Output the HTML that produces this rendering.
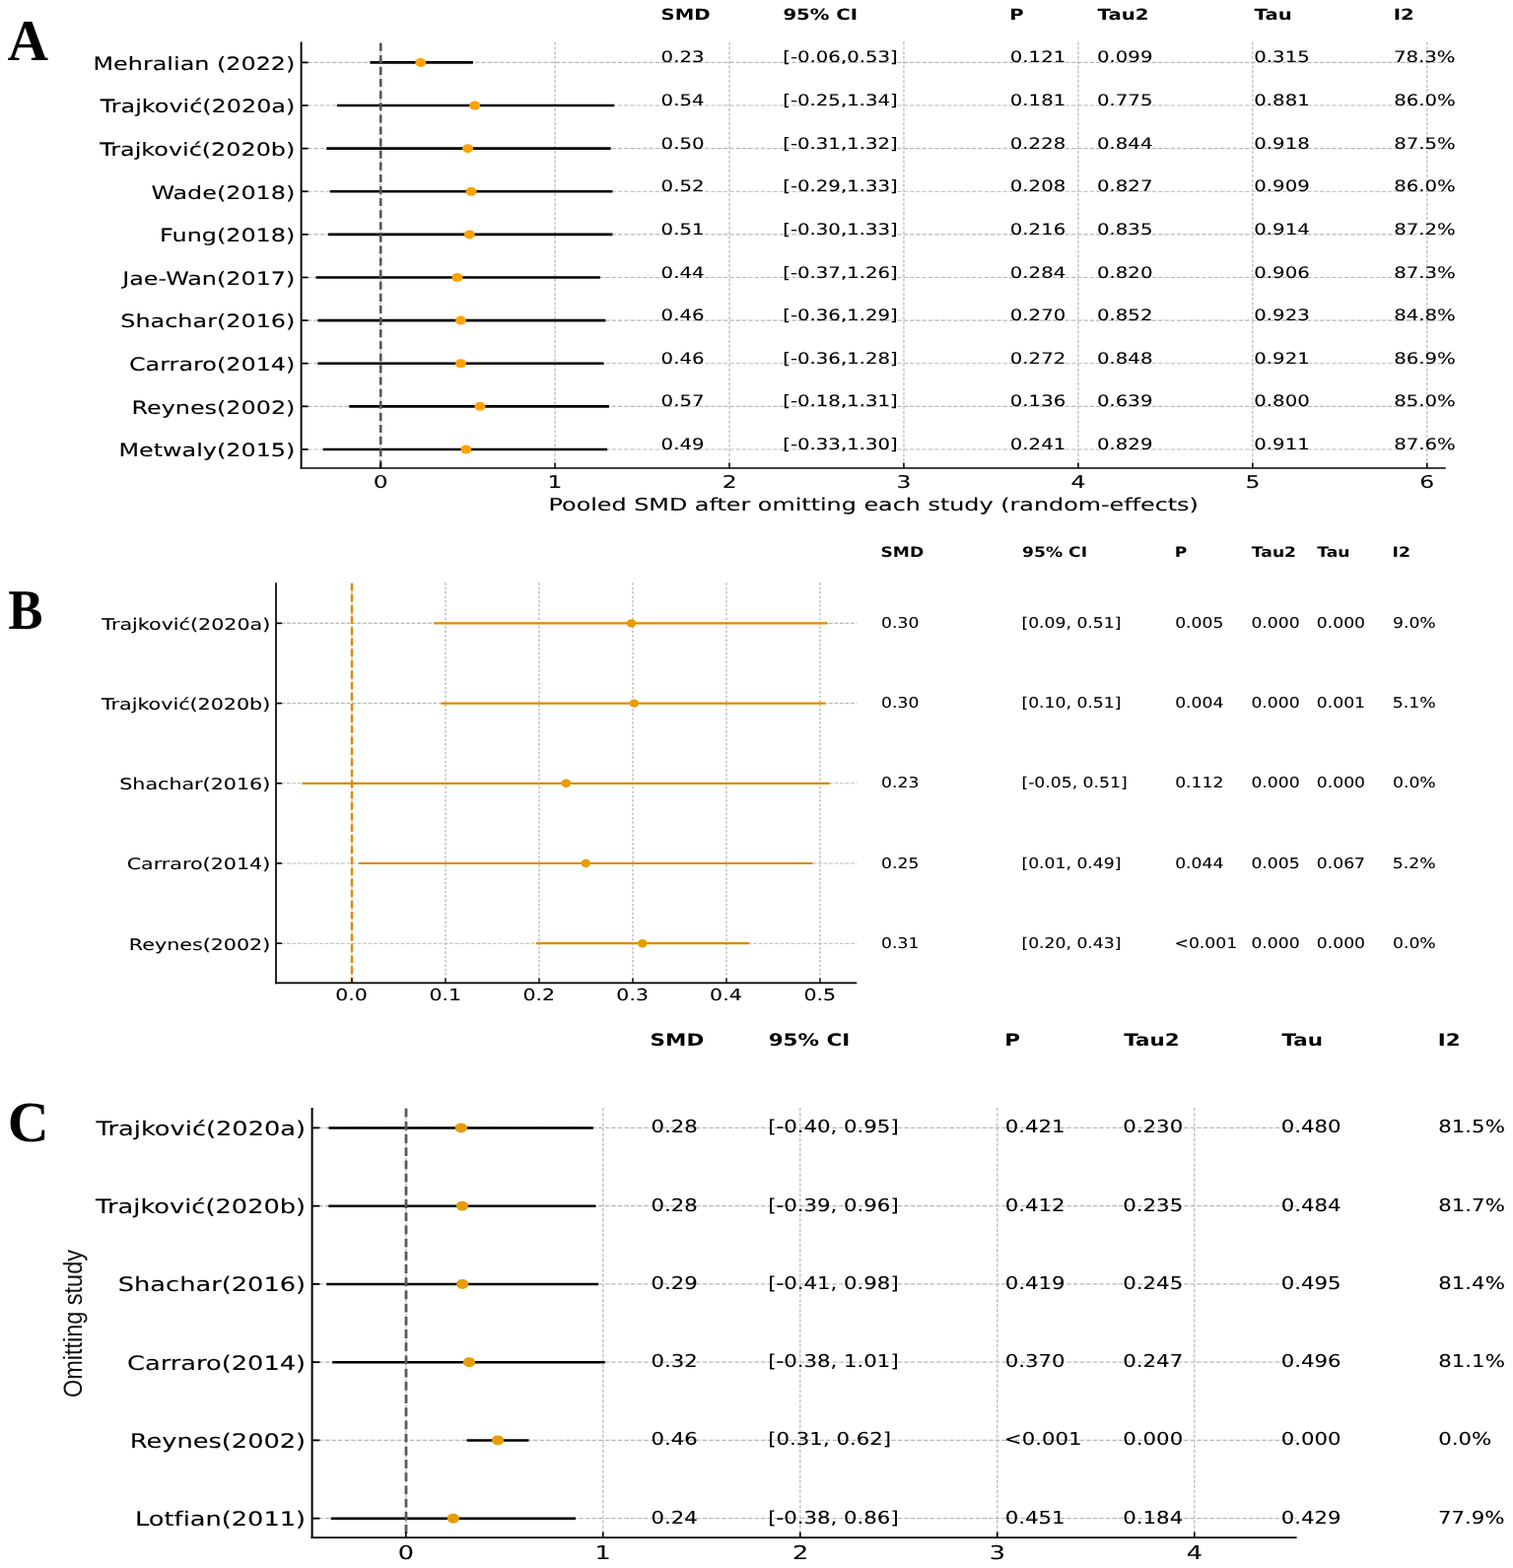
<!DOCTYPE html>
<html><head><meta charset="utf-8"><title>Leave-one-out sensitivity analysis</title>
<style>
html,body{margin:0;padding:0;background:#fff;overflow:hidden;}
svg{display:block;}
text{white-space:pre;text-rendering:geometricPrecision;font-variant-ligatures:none;font-feature-settings:"liga" 0,"clig" 0;}
.r{font-family:"DejaVu Sans","Liberation Sans",sans-serif;font-weight:normal;stroke:#000;stroke-width:0.1px;}
.b{font-family:"DejaVu Sans","Liberation Sans",sans-serif;font-weight:bold;}
.lsb{font-family:"Liberation Serif",serif;font-weight:bold;}
.sb{font-family:"DejaVu Serif","Liberation Serif",serif;font-weight:bold;}
.ls{font-family:"Liberation Sans",sans-serif;}
</style></head>
<body>
<svg width="1535" height="1591" viewBox="0 0 1535 1591">
<rect width="1535" height="1591" fill="#fff"/>
<line x1="305.60" y1="63.40" x2="1466.80" y2="63.40" stroke="#b9b9b9" stroke-width="1.1" stroke-dasharray="4.4,1.9" stroke-linecap="butt"/>
<line x1="305.60" y1="107.02" x2="1466.80" y2="107.02" stroke="#b9b9b9" stroke-width="1.1" stroke-dasharray="4.4,1.9" stroke-linecap="butt"/>
<line x1="305.60" y1="150.64" x2="1466.80" y2="150.64" stroke="#b9b9b9" stroke-width="1.1" stroke-dasharray="4.4,1.9" stroke-linecap="butt"/>
<line x1="305.60" y1="194.26" x2="1466.80" y2="194.26" stroke="#b9b9b9" stroke-width="1.1" stroke-dasharray="4.4,1.9" stroke-linecap="butt"/>
<line x1="305.60" y1="237.88" x2="1466.80" y2="237.88" stroke="#b9b9b9" stroke-width="1.1" stroke-dasharray="4.4,1.9" stroke-linecap="butt"/>
<line x1="305.60" y1="281.50" x2="1466.80" y2="281.50" stroke="#b9b9b9" stroke-width="1.1" stroke-dasharray="4.4,1.9" stroke-linecap="butt"/>
<line x1="305.60" y1="325.12" x2="1466.80" y2="325.12" stroke="#b9b9b9" stroke-width="1.1" stroke-dasharray="4.4,1.9" stroke-linecap="butt"/>
<line x1="305.60" y1="368.74" x2="1466.80" y2="368.74" stroke="#b9b9b9" stroke-width="1.1" stroke-dasharray="4.4,1.9" stroke-linecap="butt"/>
<line x1="305.60" y1="412.36" x2="1466.80" y2="412.36" stroke="#b9b9b9" stroke-width="1.1" stroke-dasharray="4.4,1.9" stroke-linecap="butt"/>
<line x1="305.60" y1="455.98" x2="1466.80" y2="455.98" stroke="#b9b9b9" stroke-width="1.1" stroke-dasharray="4.4,1.9" stroke-linecap="butt"/>
<line x1="386.10" y1="42.50" x2="386.10" y2="475.00" stroke="#b9b9b9" stroke-width="1.2" stroke-dasharray="3.2,1.6" stroke-linecap="butt"/>
<line x1="563.05" y1="42.50" x2="563.05" y2="475.00" stroke="#b9b9b9" stroke-width="1.2" stroke-dasharray="3.2,1.6" stroke-linecap="butt"/>
<line x1="740.00" y1="42.50" x2="740.00" y2="475.00" stroke="#b9b9b9" stroke-width="1.2" stroke-dasharray="3.2,1.6" stroke-linecap="butt"/>
<line x1="916.95" y1="42.50" x2="916.95" y2="475.00" stroke="#b9b9b9" stroke-width="1.2" stroke-dasharray="3.2,1.6" stroke-linecap="butt"/>
<line x1="1093.90" y1="42.50" x2="1093.90" y2="475.00" stroke="#b9b9b9" stroke-width="1.2" stroke-dasharray="3.2,1.6" stroke-linecap="butt"/>
<line x1="1270.85" y1="42.50" x2="1270.85" y2="475.00" stroke="#b9b9b9" stroke-width="1.2" stroke-dasharray="3.2,1.6" stroke-linecap="butt"/>
<line x1="1447.80" y1="42.50" x2="1447.80" y2="475.00" stroke="#b9b9b9" stroke-width="1.2" stroke-dasharray="3.2,1.6" stroke-linecap="butt"/>
<line x1="375.48" y1="63.40" x2="479.88" y2="63.40" stroke="#000" stroke-width="2.6" stroke-linecap="butt"/>
<line x1="341.86" y1="107.02" x2="623.21" y2="107.02" stroke="#000" stroke-width="2.6" stroke-linecap="butt"/>
<line x1="331.25" y1="150.64" x2="619.67" y2="150.64" stroke="#000" stroke-width="2.6" stroke-linecap="butt"/>
<line x1="334.78" y1="194.26" x2="621.44" y2="194.26" stroke="#000" stroke-width="2.6" stroke-linecap="butt"/>
<line x1="333.02" y1="237.88" x2="621.44" y2="237.88" stroke="#000" stroke-width="2.6" stroke-linecap="butt"/>
<line x1="320.63" y1="281.50" x2="609.06" y2="281.50" stroke="#000" stroke-width="2.6" stroke-linecap="butt"/>
<line x1="322.40" y1="325.12" x2="614.37" y2="325.12" stroke="#000" stroke-width="2.6" stroke-linecap="butt"/>
<line x1="322.40" y1="368.74" x2="612.60" y2="368.74" stroke="#000" stroke-width="2.6" stroke-linecap="butt"/>
<line x1="354.25" y1="412.36" x2="617.90" y2="412.36" stroke="#000" stroke-width="2.6" stroke-linecap="butt"/>
<line x1="327.71" y1="455.98" x2="616.13" y2="455.98" stroke="#000" stroke-width="2.6" stroke-linecap="butt"/>
<line x1="386.20" y1="43.80" x2="386.20" y2="475.00" stroke="#585858" stroke-width="2.7" stroke-dasharray="8,4.1" stroke-linecap="butt"/>
<ellipse cx="426.80" cy="63.40" rx="5.5" ry="4.5" fill="#FFA200"/>
<ellipse cx="481.65" cy="107.02" rx="5.5" ry="4.5" fill="#FFA200"/>
<ellipse cx="474.58" cy="150.64" rx="5.5" ry="4.5" fill="#FFA200"/>
<ellipse cx="478.11" cy="194.26" rx="5.5" ry="4.5" fill="#FFA200"/>
<ellipse cx="476.34" cy="237.88" rx="5.5" ry="4.5" fill="#FFA200"/>
<ellipse cx="463.96" cy="281.50" rx="5.5" ry="4.5" fill="#FFA200"/>
<ellipse cx="467.50" cy="325.12" rx="5.5" ry="4.5" fill="#FFA200"/>
<ellipse cx="467.50" cy="368.74" rx="5.5" ry="4.5" fill="#FFA200"/>
<ellipse cx="486.96" cy="412.36" rx="5.5" ry="4.5" fill="#FFA200"/>
<ellipse cx="472.81" cy="455.98" rx="5.5" ry="4.5" fill="#FFA200"/>
<line x1="305.60" y1="42.50" x2="305.60" y2="475.80" stroke="#000" stroke-width="1.9" stroke-linecap="butt"/>
<line x1="304.70" y1="475.00" x2="1466.80" y2="475.00" stroke="#000" stroke-width="1.7" stroke-linecap="butt"/>
<line x1="305.60" y1="63.40" x2="312.60" y2="63.40" stroke="#000" stroke-width="1.7" stroke-linecap="butt"/>
<line x1="305.60" y1="107.02" x2="312.60" y2="107.02" stroke="#000" stroke-width="1.7" stroke-linecap="butt"/>
<line x1="305.60" y1="150.64" x2="312.60" y2="150.64" stroke="#000" stroke-width="1.7" stroke-linecap="butt"/>
<line x1="305.60" y1="194.26" x2="312.60" y2="194.26" stroke="#000" stroke-width="1.7" stroke-linecap="butt"/>
<line x1="305.60" y1="237.88" x2="312.60" y2="237.88" stroke="#000" stroke-width="1.7" stroke-linecap="butt"/>
<line x1="305.60" y1="281.50" x2="312.60" y2="281.50" stroke="#000" stroke-width="1.7" stroke-linecap="butt"/>
<line x1="305.60" y1="325.12" x2="312.60" y2="325.12" stroke="#000" stroke-width="1.7" stroke-linecap="butt"/>
<line x1="305.60" y1="368.74" x2="312.60" y2="368.74" stroke="#000" stroke-width="1.7" stroke-linecap="butt"/>
<line x1="305.60" y1="412.36" x2="312.60" y2="412.36" stroke="#000" stroke-width="1.7" stroke-linecap="butt"/>
<line x1="305.60" y1="455.98" x2="312.60" y2="455.98" stroke="#000" stroke-width="1.7" stroke-linecap="butt"/>
<line x1="386.10" y1="475.00" x2="386.10" y2="469.50" stroke="#000" stroke-width="1.5" stroke-linecap="butt"/>
<line x1="563.05" y1="475.00" x2="563.05" y2="469.50" stroke="#000" stroke-width="1.5" stroke-linecap="butt"/>
<line x1="740.00" y1="475.00" x2="740.00" y2="469.50" stroke="#000" stroke-width="1.5" stroke-linecap="butt"/>
<line x1="916.95" y1="475.00" x2="916.95" y2="469.50" stroke="#000" stroke-width="1.5" stroke-linecap="butt"/>
<line x1="1093.90" y1="475.00" x2="1093.90" y2="469.50" stroke="#000" stroke-width="1.5" stroke-linecap="butt"/>
<line x1="1270.85" y1="475.00" x2="1270.85" y2="469.50" stroke="#000" stroke-width="1.5" stroke-linecap="butt"/>
<line x1="1447.80" y1="475.00" x2="1447.80" y2="469.50" stroke="#000" stroke-width="1.5" stroke-linecap="butt"/>
<text class="r" transform="matrix(1.2980,0,0,1,94.51,70.70)" font-size="18.40" fill="#000">Mehralian (2022)</text>
<text class="r" transform="matrix(1.2980,0,0,1,101.68,114.32)" font-size="18.40" fill="#000">Trajković(2020a)</text>
<text class="r" transform="matrix(1.2980,0,0,1,101.20,157.94)" font-size="18.40" fill="#000">Trajković(2020b)</text>
<text class="r" transform="matrix(1.2980,0,0,1,153.38,201.56)" font-size="18.40" fill="#000">Wade(2018)</text>
<text class="r" transform="matrix(1.2980,0,0,1,162.10,245.18)" font-size="18.40" fill="#000">Fung(2018)</text>
<text class="r" transform="matrix(1.2980,0,0,1,124.13,288.80)" font-size="18.40" fill="#000">Jae-Wan(2017)</text>
<text class="r" transform="matrix(1.2980,0,0,1,122.34,332.42)" font-size="18.40" fill="#000">Shachar(2016)</text>
<text class="r" transform="matrix(1.2980,0,0,1,130.93,376.04)" font-size="18.40" fill="#000">Carraro(2014)</text>
<text class="r" transform="matrix(1.2980,0,0,1,133.44,419.66)" font-size="18.40" fill="#000">Reynes(2002)</text>
<text class="r" transform="matrix(1.2980,0,0,1,120.43,463.28)" font-size="18.40" fill="#000">Metwaly(2015)</text>
<text class="r" transform="matrix(1.3300,0,0,1,378.67,494.70)" font-size="17.60" fill="#000">0</text>
<text class="r" transform="matrix(1.3300,0,0,1,555.38,494.70)" font-size="17.60" fill="#000">1</text>
<text class="r" transform="matrix(1.3300,0,0,1,732.86,494.70)" font-size="17.60" fill="#000">2</text>
<text class="r" transform="matrix(1.3300,0,0,1,909.58,494.70)" font-size="17.60" fill="#000">3</text>
<text class="r" transform="matrix(1.3300,0,0,1,1086.53,494.70)" font-size="17.60" fill="#000">4</text>
<text class="r" transform="matrix(1.3300,0,0,1,1263.53,494.70)" font-size="17.60" fill="#000">5</text>
<text class="r" transform="matrix(1.3300,0,0,1,1440.25,494.70)" font-size="17.60" fill="#000">6</text>
<text class="r" transform="matrix(1.3550,0,0,1,556.54,518.30)" font-size="17.60" fill="#000">Pooled SMD after omitting each study (random-effects)</text>
<text class="b" transform="matrix(1.2690,0,0,1,670.52,19.60)" font-size="15.50" fill="#000">SMD</text>
<text class="b" transform="matrix(1.2690,0,0,1,794.42,19.60)" font-size="15.50" fill="#000">95% CI</text>
<text class="b" transform="matrix(1.2690,0,0,1,1024.33,19.60)" font-size="15.50" fill="#000">P</text>
<text class="b" transform="matrix(1.2690,0,0,1,1113.50,19.60)" font-size="15.50" fill="#000">Tau2</text>
<text class="b" transform="matrix(1.2690,0,0,1,1272.60,19.60)" font-size="15.50" fill="#000">Tau</text>
<text class="b" transform="matrix(1.2690,0,0,1,1413.73,19.60)" font-size="15.50" fill="#000">I2</text>
<text class="r" transform="matrix(1.2470,0,0,1,670.62,63.40)" font-size="15.80" fill="#000">0.23</text>
<text class="r" transform="matrix(1.2470,0,0,1,794.23,63.40)" font-size="15.80" fill="#000">[-0.06,0.53]</text>
<text class="r" transform="matrix(1.2470,0,0,1,1024.82,63.40)" font-size="15.80" fill="#000">0.121</text>
<text class="r" transform="matrix(1.2470,0,0,1,1113.02,63.40)" font-size="15.80" fill="#000">0.099</text>
<text class="r" transform="matrix(1.2470,0,0,1,1272.32,63.40)" font-size="15.80" fill="#000">0.315</text>
<text class="r" transform="matrix(1.2470,0,0,1,1413.92,63.40)" font-size="15.80" fill="#000">78.3%</text>
<text class="r" transform="matrix(1.2470,0,0,1,670.62,107.02)" font-size="15.80" fill="#000">0.54</text>
<text class="r" transform="matrix(1.2470,0,0,1,794.23,107.02)" font-size="15.80" fill="#000">[-0.25,1.34]</text>
<text class="r" transform="matrix(1.2470,0,0,1,1024.82,107.02)" font-size="15.80" fill="#000">0.181</text>
<text class="r" transform="matrix(1.2470,0,0,1,1113.02,107.02)" font-size="15.80" fill="#000">0.775</text>
<text class="r" transform="matrix(1.2470,0,0,1,1272.32,107.02)" font-size="15.80" fill="#000">0.881</text>
<text class="r" transform="matrix(1.2470,0,0,1,1414.22,107.02)" font-size="15.80" fill="#000">86.0%</text>
<text class="r" transform="matrix(1.2470,0,0,1,670.62,150.64)" font-size="15.80" fill="#000">0.50</text>
<text class="r" transform="matrix(1.2470,0,0,1,794.23,150.64)" font-size="15.80" fill="#000">[-0.31,1.32]</text>
<text class="r" transform="matrix(1.2470,0,0,1,1024.82,150.64)" font-size="15.80" fill="#000">0.228</text>
<text class="r" transform="matrix(1.2470,0,0,1,1113.02,150.64)" font-size="15.80" fill="#000">0.844</text>
<text class="r" transform="matrix(1.2470,0,0,1,1272.32,150.64)" font-size="15.80" fill="#000">0.918</text>
<text class="r" transform="matrix(1.2470,0,0,1,1414.22,150.64)" font-size="15.80" fill="#000">87.5%</text>
<text class="r" transform="matrix(1.2470,0,0,1,670.62,194.26)" font-size="15.80" fill="#000">0.52</text>
<text class="r" transform="matrix(1.2470,0,0,1,794.23,194.26)" font-size="15.80" fill="#000">[-0.29,1.33]</text>
<text class="r" transform="matrix(1.2470,0,0,1,1024.82,194.26)" font-size="15.80" fill="#000">0.208</text>
<text class="r" transform="matrix(1.2470,0,0,1,1113.02,194.26)" font-size="15.80" fill="#000">0.827</text>
<text class="r" transform="matrix(1.2470,0,0,1,1272.32,194.26)" font-size="15.80" fill="#000">0.909</text>
<text class="r" transform="matrix(1.2470,0,0,1,1414.22,194.26)" font-size="15.80" fill="#000">86.0%</text>
<text class="r" transform="matrix(1.2470,0,0,1,670.62,237.88)" font-size="15.80" fill="#000">0.51</text>
<text class="r" transform="matrix(1.2470,0,0,1,794.23,237.88)" font-size="15.80" fill="#000">[-0.30,1.33]</text>
<text class="r" transform="matrix(1.2470,0,0,1,1024.82,237.88)" font-size="15.80" fill="#000">0.216</text>
<text class="r" transform="matrix(1.2470,0,0,1,1113.02,237.88)" font-size="15.80" fill="#000">0.835</text>
<text class="r" transform="matrix(1.2470,0,0,1,1272.32,237.88)" font-size="15.80" fill="#000">0.914</text>
<text class="r" transform="matrix(1.2470,0,0,1,1414.22,237.88)" font-size="15.80" fill="#000">87.2%</text>
<text class="r" transform="matrix(1.2470,0,0,1,670.62,281.50)" font-size="15.80" fill="#000">0.44</text>
<text class="r" transform="matrix(1.2470,0,0,1,794.23,281.50)" font-size="15.80" fill="#000">[-0.37,1.26]</text>
<text class="r" transform="matrix(1.2470,0,0,1,1024.82,281.50)" font-size="15.80" fill="#000">0.284</text>
<text class="r" transform="matrix(1.2470,0,0,1,1113.02,281.50)" font-size="15.80" fill="#000">0.820</text>
<text class="r" transform="matrix(1.2470,0,0,1,1272.32,281.50)" font-size="15.80" fill="#000">0.906</text>
<text class="r" transform="matrix(1.2470,0,0,1,1414.22,281.50)" font-size="15.80" fill="#000">87.3%</text>
<text class="r" transform="matrix(1.2470,0,0,1,670.62,325.12)" font-size="15.80" fill="#000">0.46</text>
<text class="r" transform="matrix(1.2470,0,0,1,794.23,325.12)" font-size="15.80" fill="#000">[-0.36,1.29]</text>
<text class="r" transform="matrix(1.2470,0,0,1,1024.82,325.12)" font-size="15.80" fill="#000">0.270</text>
<text class="r" transform="matrix(1.2470,0,0,1,1113.02,325.12)" font-size="15.80" fill="#000">0.852</text>
<text class="r" transform="matrix(1.2470,0,0,1,1272.32,325.12)" font-size="15.80" fill="#000">0.923</text>
<text class="r" transform="matrix(1.2470,0,0,1,1414.22,325.12)" font-size="15.80" fill="#000">84.8%</text>
<text class="r" transform="matrix(1.2470,0,0,1,670.62,368.74)" font-size="15.80" fill="#000">0.46</text>
<text class="r" transform="matrix(1.2470,0,0,1,794.23,368.74)" font-size="15.80" fill="#000">[-0.36,1.28]</text>
<text class="r" transform="matrix(1.2470,0,0,1,1024.82,368.74)" font-size="15.80" fill="#000">0.272</text>
<text class="r" transform="matrix(1.2470,0,0,1,1113.02,368.74)" font-size="15.80" fill="#000">0.848</text>
<text class="r" transform="matrix(1.2470,0,0,1,1272.32,368.74)" font-size="15.80" fill="#000">0.921</text>
<text class="r" transform="matrix(1.2470,0,0,1,1414.22,368.74)" font-size="15.80" fill="#000">86.9%</text>
<text class="r" transform="matrix(1.2470,0,0,1,670.62,412.36)" font-size="15.80" fill="#000">0.57</text>
<text class="r" transform="matrix(1.2470,0,0,1,794.23,412.36)" font-size="15.80" fill="#000">[-0.18,1.31]</text>
<text class="r" transform="matrix(1.2470,0,0,1,1024.82,412.36)" font-size="15.80" fill="#000">0.136</text>
<text class="r" transform="matrix(1.2470,0,0,1,1113.02,412.36)" font-size="15.80" fill="#000">0.639</text>
<text class="r" transform="matrix(1.2470,0,0,1,1272.32,412.36)" font-size="15.80" fill="#000">0.800</text>
<text class="r" transform="matrix(1.2470,0,0,1,1414.22,412.36)" font-size="15.80" fill="#000">85.0%</text>
<text class="r" transform="matrix(1.2470,0,0,1,670.62,455.98)" font-size="15.80" fill="#000">0.49</text>
<text class="r" transform="matrix(1.2470,0,0,1,794.23,455.98)" font-size="15.80" fill="#000">[-0.33,1.30]</text>
<text class="r" transform="matrix(1.2470,0,0,1,1024.82,455.98)" font-size="15.80" fill="#000">0.241</text>
<text class="r" transform="matrix(1.2470,0,0,1,1113.02,455.98)" font-size="15.80" fill="#000">0.829</text>
<text class="r" transform="matrix(1.2470,0,0,1,1272.32,455.98)" font-size="15.80" fill="#000">0.911</text>
<text class="r" transform="matrix(1.2470,0,0,1,1414.22,455.98)" font-size="15.80" fill="#000">87.6%</text>
<text class="lsb" transform="matrix(0.9750,0,0,1,7.42,61.00)" font-size="59.00" fill="#000">A</text>
<line x1="280.00" y1="632.40" x2="869.30" y2="632.40" stroke="#b9b9b9" stroke-width="1.1" stroke-dasharray="3.9,1.6" stroke-linecap="butt"/>
<line x1="280.00" y1="713.60" x2="869.30" y2="713.60" stroke="#b9b9b9" stroke-width="1.1" stroke-dasharray="3.9,1.6" stroke-linecap="butt"/>
<line x1="280.00" y1="794.80" x2="869.30" y2="794.80" stroke="#b9b9b9" stroke-width="1.1" stroke-dasharray="3.9,1.6" stroke-linecap="butt"/>
<line x1="280.00" y1="876.00" x2="869.30" y2="876.00" stroke="#b9b9b9" stroke-width="1.1" stroke-dasharray="3.9,1.6" stroke-linecap="butt"/>
<line x1="280.00" y1="957.20" x2="869.30" y2="957.20" stroke="#b9b9b9" stroke-width="1.1" stroke-dasharray="3.9,1.6" stroke-linecap="butt"/>
<line x1="357.00" y1="591.30" x2="357.00" y2="997.40" stroke="#b0b0b0" stroke-width="1.2" stroke-dasharray="2.5,1.9" stroke-linecap="butt"/>
<line x1="452.00" y1="591.30" x2="452.00" y2="997.40" stroke="#b0b0b0" stroke-width="1.2" stroke-dasharray="2.5,1.9" stroke-linecap="butt"/>
<line x1="547.00" y1="591.30" x2="547.00" y2="997.40" stroke="#b0b0b0" stroke-width="1.2" stroke-dasharray="2.5,1.9" stroke-linecap="butt"/>
<line x1="642.00" y1="591.30" x2="642.00" y2="997.40" stroke="#b0b0b0" stroke-width="1.2" stroke-dasharray="2.5,1.9" stroke-linecap="butt"/>
<line x1="737.00" y1="591.30" x2="737.00" y2="997.40" stroke="#b0b0b0" stroke-width="1.2" stroke-dasharray="2.5,1.9" stroke-linecap="butt"/>
<line x1="832.00" y1="591.30" x2="832.00" y2="997.40" stroke="#b0b0b0" stroke-width="1.2" stroke-dasharray="2.5,1.9" stroke-linecap="butt"/>
<line x1="440.31" y1="632.40" x2="839.79" y2="632.40" stroke="#D88C0E" stroke-width="2.2" stroke-linecap="butt"/>
<line x1="447.44" y1="713.60" x2="837.51" y2="713.60" stroke="#D88C0E" stroke-width="2.2" stroke-linecap="butt"/>
<line x1="306.65" y1="794.80" x2="841.78" y2="794.80" stroke="#D88C0E" stroke-width="2.2" stroke-linecap="butt"/>
<line x1="364.03" y1="876.00" x2="824.59" y2="876.00" stroke="#D88C0E" stroke-width="2.2" stroke-linecap="butt"/>
<line x1="543.77" y1="957.20" x2="760.18" y2="957.20" stroke="#D88C0E" stroke-width="2.2" stroke-linecap="butt"/>
<line x1="357.00" y1="592.00" x2="357.00" y2="997.40" stroke="#E08A00" stroke-width="2.5" stroke-dasharray="7.5,3.6" stroke-linecap="butt"/>
<ellipse cx="640.58" cy="632.40" rx="4.8" ry="4.2" fill="#E69D00"/>
<ellipse cx="643.33" cy="713.60" rx="4.8" ry="4.2" fill="#E69D00"/>
<ellipse cx="574.36" cy="794.80" rx="4.8" ry="4.2" fill="#E69D00"/>
<ellipse cx="594.31" cy="876.00" rx="4.8" ry="4.2" fill="#E69D00"/>
<ellipse cx="651.79" cy="957.20" rx="4.8" ry="4.2" fill="#E69D00"/>
<line x1="280.00" y1="591.30" x2="280.00" y2="998.20" stroke="#000" stroke-width="1.7" stroke-linecap="butt"/>
<line x1="279.20" y1="997.40" x2="869.30" y2="997.40" stroke="#000" stroke-width="1.6" stroke-linecap="butt"/>
<line x1="280.00" y1="632.40" x2="286.00" y2="632.40" stroke="#000" stroke-width="1.6" stroke-linecap="butt"/>
<line x1="280.00" y1="713.60" x2="286.00" y2="713.60" stroke="#000" stroke-width="1.6" stroke-linecap="butt"/>
<line x1="280.00" y1="794.80" x2="286.00" y2="794.80" stroke="#000" stroke-width="1.6" stroke-linecap="butt"/>
<line x1="280.00" y1="876.00" x2="286.00" y2="876.00" stroke="#000" stroke-width="1.6" stroke-linecap="butt"/>
<line x1="280.00" y1="957.20" x2="286.00" y2="957.20" stroke="#000" stroke-width="1.6" stroke-linecap="butt"/>
<line x1="357.00" y1="997.40" x2="357.00" y2="992.40" stroke="#000" stroke-width="1.4" stroke-linecap="butt"/>
<line x1="452.00" y1="997.40" x2="452.00" y2="992.40" stroke="#000" stroke-width="1.4" stroke-linecap="butt"/>
<line x1="547.00" y1="997.40" x2="547.00" y2="992.40" stroke="#000" stroke-width="1.4" stroke-linecap="butt"/>
<line x1="642.00" y1="997.40" x2="642.00" y2="992.40" stroke="#000" stroke-width="1.4" stroke-linecap="butt"/>
<line x1="737.00" y1="997.40" x2="737.00" y2="992.40" stroke="#000" stroke-width="1.4" stroke-linecap="butt"/>
<line x1="832.00" y1="997.40" x2="832.00" y2="992.40" stroke="#000" stroke-width="1.4" stroke-linecap="butt"/>
<text class="r" transform="matrix(1.2900,0,0,1,103.36,638.70)" font-size="16.00" fill="#000">Trajković(2020a)</text>
<text class="r" transform="matrix(1.2900,0,0,1,102.94,719.90)" font-size="16.00" fill="#000">Trajković(2020b)</text>
<text class="r" transform="matrix(1.2900,0,0,1,121.21,801.10)" font-size="16.00" fill="#000">Shachar(2016)</text>
<text class="r" transform="matrix(1.2900,0,0,1,128.64,882.30)" font-size="16.00" fill="#000">Carraro(2014)</text>
<text class="r" transform="matrix(1.2900,0,0,1,130.81,963.50)" font-size="16.00" fill="#000">Reynes(2002)</text>
<text class="r" transform="matrix(1.2500,0,0,1,340.20,1015.00)" font-size="16.40" fill="#000">0.0</text>
<text class="r" transform="matrix(1.2500,0,0,1,435.46,1015.00)" font-size="16.40" fill="#000">0.1</text>
<text class="r" transform="matrix(1.2500,0,0,1,530.56,1015.00)" font-size="16.40" fill="#000">0.2</text>
<text class="r" transform="matrix(1.2500,0,0,1,625.36,1015.00)" font-size="16.40" fill="#000">0.3</text>
<text class="r" transform="matrix(1.2500,0,0,1,720.10,1015.00)" font-size="16.40" fill="#000">0.4</text>
<text class="r" transform="matrix(1.2500,0,0,1,815.41,1015.00)" font-size="16.40" fill="#000">0.5</text>
<text class="b" transform="matrix(1.2000,0,0,1,893.50,565.00)" font-size="14.30" fill="#000">SMD</text>
<text class="b" transform="matrix(1.2000,0,0,1,1037.04,565.00)" font-size="14.30" fill="#000">95% CI</text>
<text class="b" transform="matrix(1.2000,0,0,1,1191.76,565.00)" font-size="14.30" fill="#000">P</text>
<text class="b" transform="matrix(1.2000,0,0,1,1269.81,565.00)" font-size="14.30" fill="#000">Tau2</text>
<text class="b" transform="matrix(1.2000,0,0,1,1336.21,565.00)" font-size="14.30" fill="#000">Tau</text>
<text class="b" transform="matrix(1.2000,0,0,1,1412.56,565.00)" font-size="14.30" fill="#000">I2</text>
<text class="r" transform="matrix(1.1550,0,0,1,894.08,637.00)" font-size="14.90" fill="#000">0.30</text>
<text class="r" transform="matrix(1.1550,0,0,1,1036.44,637.00)" font-size="14.90" fill="#000">[0.09, 0.51]</text>
<text class="r" transform="matrix(1.1550,0,0,1,1192.18,637.00)" font-size="14.90" fill="#000">0.005</text>
<text class="r" transform="matrix(1.1550,0,0,1,1269.38,637.00)" font-size="14.90" fill="#000">0.000</text>
<text class="r" transform="matrix(1.1550,0,0,1,1335.78,637.00)" font-size="14.90" fill="#000">0.000</text>
<text class="r" transform="matrix(1.1550,0,0,1,1412.98,637.00)" font-size="14.90" fill="#000">9.0%</text>
<text class="r" transform="matrix(1.1550,0,0,1,894.08,718.20)" font-size="14.90" fill="#000">0.30</text>
<text class="r" transform="matrix(1.1550,0,0,1,1036.44,718.20)" font-size="14.90" fill="#000">[0.10, 0.51]</text>
<text class="r" transform="matrix(1.1550,0,0,1,1192.18,718.20)" font-size="14.90" fill="#000">0.004</text>
<text class="r" transform="matrix(1.1550,0,0,1,1269.38,718.20)" font-size="14.90" fill="#000">0.000</text>
<text class="r" transform="matrix(1.1550,0,0,1,1335.78,718.20)" font-size="14.90" fill="#000">0.001</text>
<text class="r" transform="matrix(1.1550,0,0,1,1412.81,718.20)" font-size="14.90" fill="#000">5.1%</text>
<text class="r" transform="matrix(1.1550,0,0,1,894.08,799.40)" font-size="14.90" fill="#000">0.23</text>
<text class="r" transform="matrix(1.1550,0,0,1,1036.44,799.40)" font-size="14.90" fill="#000">[-0.05, 0.51]</text>
<text class="r" transform="matrix(1.1550,0,0,1,1192.18,799.40)" font-size="14.90" fill="#000">0.112</text>
<text class="r" transform="matrix(1.1550,0,0,1,1269.38,799.40)" font-size="14.90" fill="#000">0.000</text>
<text class="r" transform="matrix(1.1550,0,0,1,1335.78,799.40)" font-size="14.90" fill="#000">0.000</text>
<text class="r" transform="matrix(1.1550,0,0,1,1412.98,799.40)" font-size="14.90" fill="#000">0.0%</text>
<text class="r" transform="matrix(1.1550,0,0,1,894.08,880.60)" font-size="14.90" fill="#000">0.25</text>
<text class="r" transform="matrix(1.1550,0,0,1,1036.44,880.60)" font-size="14.90" fill="#000">[0.01, 0.49]</text>
<text class="r" transform="matrix(1.1550,0,0,1,1192.18,880.60)" font-size="14.90" fill="#000">0.044</text>
<text class="r" transform="matrix(1.1550,0,0,1,1269.38,880.60)" font-size="14.90" fill="#000">0.005</text>
<text class="r" transform="matrix(1.1550,0,0,1,1335.78,880.60)" font-size="14.90" fill="#000">0.067</text>
<text class="r" transform="matrix(1.1550,0,0,1,1412.81,880.60)" font-size="14.90" fill="#000">5.2%</text>
<text class="r" transform="matrix(1.1550,0,0,1,894.08,961.80)" font-size="14.90" fill="#000">0.31</text>
<text class="r" transform="matrix(1.1550,0,0,1,1036.44,961.80)" font-size="14.90" fill="#000">[0.20, 0.43]</text>
<text class="r" transform="matrix(1.1550,0,0,1,1191.49,961.80)" font-size="14.90" fill="#000">&lt;0.001</text>
<text class="r" transform="matrix(1.1550,0,0,1,1269.38,961.80)" font-size="14.90" fill="#000">0.000</text>
<text class="r" transform="matrix(1.1550,0,0,1,1335.78,961.80)" font-size="14.90" fill="#000">0.000</text>
<text class="r" transform="matrix(1.1550,0,0,1,1412.98,961.80)" font-size="14.90" fill="#000">0.0%</text>
<text class="lsb" transform="matrix(0.9200,0,0,1,8.21,638.20)" font-size="57.50" fill="#000">B</text>
<line x1="316.60" y1="1144.40" x2="1315.60" y2="1144.40" stroke="#b9b9b9" stroke-width="1.1" stroke-dasharray="4.6,2.0" stroke-linecap="butt"/>
<line x1="316.60" y1="1223.65" x2="1315.60" y2="1223.65" stroke="#b9b9b9" stroke-width="1.1" stroke-dasharray="4.6,2.0" stroke-linecap="butt"/>
<line x1="316.60" y1="1302.90" x2="1315.60" y2="1302.90" stroke="#b9b9b9" stroke-width="1.1" stroke-dasharray="4.6,2.0" stroke-linecap="butt"/>
<line x1="316.60" y1="1382.15" x2="1315.60" y2="1382.15" stroke="#b9b9b9" stroke-width="1.1" stroke-dasharray="4.6,2.0" stroke-linecap="butt"/>
<line x1="316.60" y1="1461.40" x2="1315.60" y2="1461.40" stroke="#b9b9b9" stroke-width="1.1" stroke-dasharray="4.6,2.0" stroke-linecap="butt"/>
<line x1="316.60" y1="1540.65" x2="1315.60" y2="1540.65" stroke="#b9b9b9" stroke-width="1.1" stroke-dasharray="4.6,2.0" stroke-linecap="butt"/>
<line x1="411.80" y1="1124.10" x2="411.80" y2="1560.10" stroke="#b9b9b9" stroke-width="1.2" stroke-dasharray="3.5,1.6" stroke-linecap="butt"/>
<line x1="611.80" y1="1124.10" x2="611.80" y2="1560.10" stroke="#b9b9b9" stroke-width="1.2" stroke-dasharray="3.5,1.6" stroke-linecap="butt"/>
<line x1="811.80" y1="1124.10" x2="811.80" y2="1560.10" stroke="#b9b9b9" stroke-width="1.2" stroke-dasharray="3.5,1.6" stroke-linecap="butt"/>
<line x1="1011.80" y1="1124.10" x2="1011.80" y2="1560.10" stroke="#b9b9b9" stroke-width="1.2" stroke-dasharray="3.5,1.6" stroke-linecap="butt"/>
<line x1="1211.80" y1="1124.10" x2="1211.80" y2="1560.10" stroke="#b9b9b9" stroke-width="1.2" stroke-dasharray="3.5,1.6" stroke-linecap="butt"/>
<line x1="333.50" y1="1144.40" x2="601.80" y2="1144.40" stroke="#000" stroke-width="2.5" stroke-linecap="butt"/>
<line x1="333.30" y1="1223.65" x2="604.50" y2="1223.65" stroke="#000" stroke-width="2.5" stroke-linecap="butt"/>
<line x1="331.30" y1="1302.90" x2="607.00" y2="1302.90" stroke="#000" stroke-width="2.5" stroke-linecap="butt"/>
<line x1="337.10" y1="1382.15" x2="613.80" y2="1382.15" stroke="#000" stroke-width="2.5" stroke-linecap="butt"/>
<line x1="473.50" y1="1461.40" x2="536.50" y2="1461.40" stroke="#000" stroke-width="2.5" stroke-linecap="butt"/>
<line x1="335.70" y1="1540.65" x2="584.00" y2="1540.65" stroke="#000" stroke-width="2.5" stroke-linecap="butt"/>
<line x1="412.00" y1="1124.70" x2="412.00" y2="1560.10" stroke="#5a5a5a" stroke-width="2.8" stroke-dasharray="8.8,4.4" stroke-linecap="butt"/>
<ellipse cx="467.80" cy="1144.40" rx="6.1" ry="5.0" fill="#E69D0C"/>
<ellipse cx="469.00" cy="1223.65" rx="6.1" ry="5.0" fill="#E69D0C"/>
<ellipse cx="469.20" cy="1302.90" rx="6.1" ry="5.0" fill="#E69D0C"/>
<ellipse cx="476.00" cy="1382.15" rx="6.1" ry="5.0" fill="#E69D0C"/>
<ellipse cx="505.00" cy="1461.40" rx="6.1" ry="5.0" fill="#E69D0C"/>
<ellipse cx="459.80" cy="1540.65" rx="6.1" ry="5.0" fill="#E69D0C"/>
<line x1="316.60" y1="1124.10" x2="316.60" y2="1560.90" stroke="#000" stroke-width="2.0" stroke-linecap="butt"/>
<line x1="315.60" y1="1560.10" x2="1315.60" y2="1560.10" stroke="#000" stroke-width="1.8" stroke-linecap="butt"/>
<line x1="316.60" y1="1144.40" x2="324.40" y2="1144.40" stroke="#000" stroke-width="1.8" stroke-linecap="butt"/>
<line x1="316.60" y1="1223.65" x2="324.40" y2="1223.65" stroke="#000" stroke-width="1.8" stroke-linecap="butt"/>
<line x1="316.60" y1="1302.90" x2="324.40" y2="1302.90" stroke="#000" stroke-width="1.8" stroke-linecap="butt"/>
<line x1="316.60" y1="1382.15" x2="324.40" y2="1382.15" stroke="#000" stroke-width="1.8" stroke-linecap="butt"/>
<line x1="316.60" y1="1461.40" x2="324.40" y2="1461.40" stroke="#000" stroke-width="1.8" stroke-linecap="butt"/>
<line x1="316.60" y1="1540.65" x2="324.40" y2="1540.65" stroke="#000" stroke-width="1.8" stroke-linecap="butt"/>
<line x1="411.80" y1="1560.10" x2="411.80" y2="1554.60" stroke="#000" stroke-width="1.6" stroke-linecap="butt"/>
<line x1="611.80" y1="1560.10" x2="611.80" y2="1554.60" stroke="#000" stroke-width="1.6" stroke-linecap="butt"/>
<line x1="811.80" y1="1560.10" x2="811.80" y2="1554.60" stroke="#000" stroke-width="1.6" stroke-linecap="butt"/>
<line x1="1011.80" y1="1560.10" x2="1011.80" y2="1554.60" stroke="#000" stroke-width="1.6" stroke-linecap="butt"/>
<line x1="1211.80" y1="1560.10" x2="1211.80" y2="1554.60" stroke="#000" stroke-width="1.6" stroke-linecap="butt"/>
<text class="r" transform="matrix(1.2830,0,0,1,97.62,1151.80)" font-size="20.00" fill="#000">Trajković(2020a)</text>
<text class="r" transform="matrix(1.2830,0,0,1,97.10,1231.05)" font-size="20.00" fill="#000">Trajković(2020b)</text>
<text class="r" transform="matrix(1.2830,0,0,1,119.81,1310.30)" font-size="20.00" fill="#000">Shachar(2016)</text>
<text class="r" transform="matrix(1.2830,0,0,1,129.05,1389.55)" font-size="20.00" fill="#000">Carraro(2014)</text>
<text class="r" transform="matrix(1.2830,0,0,1,131.74,1468.80)" font-size="20.00" fill="#000">Reynes(2002)</text>
<text class="r" transform="matrix(1.2830,0,0,1,137.00,1548.05)" font-size="20.00" fill="#000">Lotfian(2011)</text>
<text class="r" transform="matrix(1.3270,0,0,1,403.71,1581.50)" font-size="19.20" fill="#000">0</text>
<text class="r" transform="matrix(1.3270,0,0,1,603.46,1581.50)" font-size="19.20" fill="#000">1</text>
<text class="r" transform="matrix(1.3270,0,0,1,804.03,1581.50)" font-size="19.20" fill="#000">2</text>
<text class="r" transform="matrix(1.3270,0,0,1,1003.77,1581.50)" font-size="19.20" fill="#000">3</text>
<text class="r" transform="matrix(1.3270,0,0,1,1203.77,1581.50)" font-size="19.20" fill="#000">4</text>
<text class="b" transform="matrix(1.2550,0,0,1,659.60,1060.90)" font-size="17.10" fill="#000">SMD</text>
<text class="b" transform="matrix(1.2550,0,0,1,779.63,1060.90)" font-size="17.10" fill="#000">95% CI</text>
<text class="b" transform="matrix(1.2550,0,0,1,1019.17,1060.90)" font-size="17.10" fill="#000">P</text>
<text class="b" transform="matrix(1.2550,0,0,1,1140.19,1060.90)" font-size="17.10" fill="#000">Tau2</text>
<text class="b" transform="matrix(1.2550,0,0,1,1300.39,1060.90)" font-size="17.10" fill="#000">Tau</text>
<text class="b" transform="matrix(1.2550,0,0,1,1458.77,1060.90)" font-size="17.10" fill="#000">I2</text>
<text class="r" transform="matrix(1.1950,0,0,1,660.52,1149.40)" font-size="17.80" fill="#000">0.28</text>
<text class="r" transform="matrix(1.1950,0,0,1,779.29,1149.40)" font-size="17.80" fill="#000">[-0.40, 0.95]</text>
<text class="r" transform="matrix(1.1950,0,0,1,1019.72,1149.40)" font-size="17.80" fill="#000">0.421</text>
<text class="r" transform="matrix(1.1950,0,0,1,1139.32,1149.40)" font-size="17.80" fill="#000">0.230</text>
<text class="r" transform="matrix(1.1950,0,0,1,1299.72,1149.40)" font-size="17.80" fill="#000">0.480</text>
<text class="r" transform="matrix(1.1950,0,0,1,1459.32,1149.40)" font-size="17.80" fill="#000">81.5%</text>
<text class="r" transform="matrix(1.1950,0,0,1,660.52,1228.65)" font-size="17.80" fill="#000">0.28</text>
<text class="r" transform="matrix(1.1950,0,0,1,779.29,1228.65)" font-size="17.80" fill="#000">[-0.39, 0.96]</text>
<text class="r" transform="matrix(1.1950,0,0,1,1019.72,1228.65)" font-size="17.80" fill="#000">0.412</text>
<text class="r" transform="matrix(1.1950,0,0,1,1139.32,1228.65)" font-size="17.80" fill="#000">0.235</text>
<text class="r" transform="matrix(1.1950,0,0,1,1299.72,1228.65)" font-size="17.80" fill="#000">0.484</text>
<text class="r" transform="matrix(1.1950,0,0,1,1459.32,1228.65)" font-size="17.80" fill="#000">81.7%</text>
<text class="r" transform="matrix(1.1950,0,0,1,660.52,1307.90)" font-size="17.80" fill="#000">0.29</text>
<text class="r" transform="matrix(1.1950,0,0,1,779.29,1307.90)" font-size="17.80" fill="#000">[-0.41, 0.98]</text>
<text class="r" transform="matrix(1.1950,0,0,1,1019.72,1307.90)" font-size="17.80" fill="#000">0.419</text>
<text class="r" transform="matrix(1.1950,0,0,1,1139.32,1307.90)" font-size="17.80" fill="#000">0.245</text>
<text class="r" transform="matrix(1.1950,0,0,1,1299.72,1307.90)" font-size="17.80" fill="#000">0.495</text>
<text class="r" transform="matrix(1.1950,0,0,1,1459.32,1307.90)" font-size="17.80" fill="#000">81.4%</text>
<text class="r" transform="matrix(1.1950,0,0,1,660.52,1387.15)" font-size="17.80" fill="#000">0.32</text>
<text class="r" transform="matrix(1.1950,0,0,1,779.29,1387.15)" font-size="17.80" fill="#000">[-0.38, 1.01]</text>
<text class="r" transform="matrix(1.1950,0,0,1,1019.72,1387.15)" font-size="17.80" fill="#000">0.370</text>
<text class="r" transform="matrix(1.1950,0,0,1,1139.32,1387.15)" font-size="17.80" fill="#000">0.247</text>
<text class="r" transform="matrix(1.1950,0,0,1,1299.72,1387.15)" font-size="17.80" fill="#000">0.496</text>
<text class="r" transform="matrix(1.1950,0,0,1,1459.32,1387.15)" font-size="17.80" fill="#000">81.1%</text>
<text class="r" transform="matrix(1.1950,0,0,1,660.52,1466.40)" font-size="17.80" fill="#000">0.46</text>
<text class="r" transform="matrix(1.1950,0,0,1,779.29,1466.40)" font-size="17.80" fill="#000">[0.31, 0.62]</text>
<text class="r" transform="matrix(1.1950,0,0,1,1018.87,1466.40)" font-size="17.80" fill="#000">&lt;0.001</text>
<text class="r" transform="matrix(1.1950,0,0,1,1139.32,1466.40)" font-size="17.80" fill="#000">0.000</text>
<text class="r" transform="matrix(1.1950,0,0,1,1299.72,1466.40)" font-size="17.80" fill="#000">0.000</text>
<text class="r" transform="matrix(1.1950,0,0,1,1459.32,1466.40)" font-size="17.80" fill="#000">0.0%</text>
<text class="r" transform="matrix(1.1950,0,0,1,660.52,1545.65)" font-size="17.80" fill="#000">0.24</text>
<text class="r" transform="matrix(1.1950,0,0,1,779.29,1545.65)" font-size="17.80" fill="#000">[-0.38, 0.86]</text>
<text class="r" transform="matrix(1.1950,0,0,1,1019.72,1545.65)" font-size="17.80" fill="#000">0.451</text>
<text class="r" transform="matrix(1.1950,0,0,1,1139.32,1545.65)" font-size="17.80" fill="#000">0.184</text>
<text class="r" transform="matrix(1.1950,0,0,1,1299.72,1545.65)" font-size="17.80" fill="#000">0.429</text>
<text class="r" transform="matrix(1.1950,0,0,1,1459.00,1545.65)" font-size="17.80" fill="#000">77.9%</text>
<text class="lsb" transform="matrix(1.0000,0,0,1,7.70,1158.40)" font-size="58.00" fill="#000">C</text>
<text class="ls" transform="matrix(0,-1,1,0,82.8,1417.96) scale(0.8850,1)" font-size="26.5" fill="#111">Omitting study</text>
</svg>
</body></html>
